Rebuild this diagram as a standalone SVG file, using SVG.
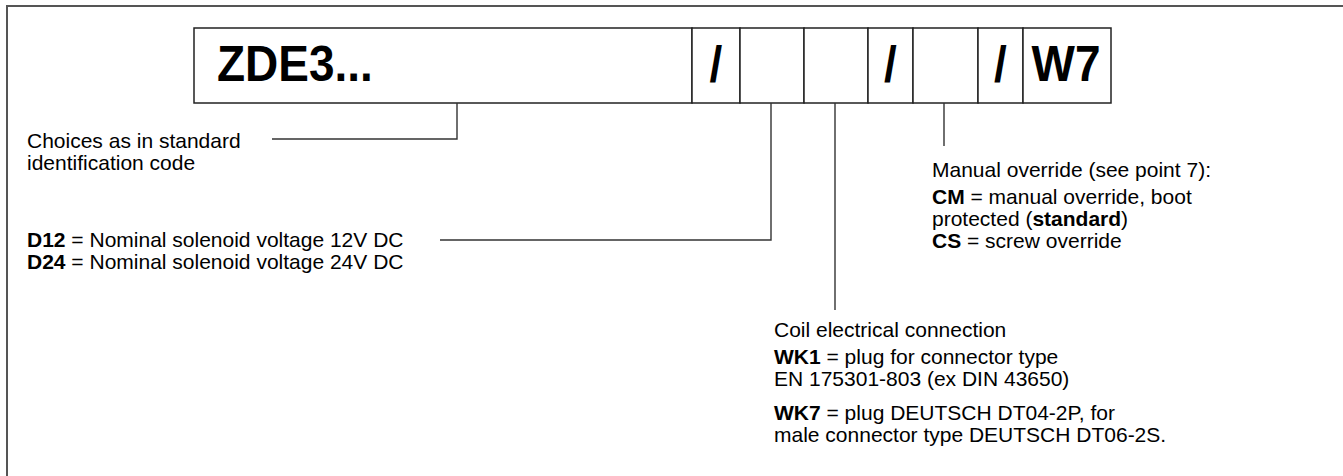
<svg xmlns="http://www.w3.org/2000/svg" width="1343" height="476" viewBox="0 0 1343 476">
<style>
.t{font-family:"Liberation Sans",Arial,sans-serif;font-size:21px;fill:#000}
.b{font-weight:bold}
.big{font-family:"Liberation Sans",Arial,sans-serif;font-size:50px;font-weight:bold;fill:#000}
.cell{fill:#fff;stroke:#222;stroke-width:1.5}
.ln{fill:none;stroke:#333;stroke-width:1.4}
.frame{fill:none;stroke:#555;stroke-width:2}
</style>
<rect width="1343" height="476" fill="#fff"/>
<path class="frame" d="M7,477 V6 H1344"/>
<g id="code">
<rect class="cell" x="194" y="28" width="498" height="75"/>
<rect class="cell" x="692" y="28" width="48" height="75"/>
<rect class="cell" x="740" y="28" width="64" height="75"/>
<rect class="cell" x="804" y="28" width="64" height="75"/>
<rect class="cell" x="868" y="28" width="45" height="75"/>
<rect class="cell" x="913" y="28" width="65" height="75"/>
<rect class="cell" x="978" y="28" width="45" height="75"/>
<rect class="cell" x="1023" y="28" width="88" height="75"/>
<text class="big" transform="translate(217,81) scale(0.92,1)">ZDE3...</text>
<text class="big" transform="translate(716,81) scale(0.92,1)" text-anchor="middle">/</text>
<text class="big" transform="translate(890.5,81) scale(0.92,1)" text-anchor="middle">/</text>
<text class="big" transform="translate(1000.5,81) scale(0.92,1)" text-anchor="middle">/</text>
<text class="big" transform="translate(1066,81) scale(0.92,1)" text-anchor="middle">W7</text>
</g>
<g id="connectors">
<path class="ln" d="M457,103 V139 H272"/>
<path class="ln" d="M771,103 V240 H440"/>
<path class="ln" d="M835,103 V310"/>
<path class="ln" d="M944,103 V146"/>
</g>
<g id="choices">
<text class="t" x="27" y="148">Choices as in standard</text>
<text class="t" x="27" y="170">identification code</text>
</g>
<g id="voltage">
<text class="t" x="27" y="247"><tspan class="b">D12</tspan> = Nominal solenoid voltage 12V DC</text>
<text class="t" x="27" y="269"><tspan class="b">D24</tspan> = Nominal solenoid voltage 24V DC</text>
</g>
<g id="override">
<text class="t" x="932" y="177">Manual override (see point 7):</text>
<text class="t" x="932" y="204"><tspan class="b">CM</tspan> = manual override, boot</text>
<text class="t" x="932" y="226">protected (<tspan class="b">standard</tspan>)</text>
<text class="t" x="932" y="248"><tspan class="b">CS</tspan> = screw override</text>
</g>
<g id="coil">
<text class="t" x="774" y="337">Coil electrical connection</text>
<text class="t" x="774" y="364"><tspan class="b">WK1</tspan> = plug for connector type</text>
<text class="t" x="774" y="386">EN 175301-803 (ex DIN 43650)</text>
<text class="t" x="774" y="420"><tspan class="b">WK7</tspan> = plug DEUTSCH DT04-2P, for</text>
<text class="t" x="774" y="442">male connector type DEUTSCH DT06-2S.</text>
</g>
</svg>
